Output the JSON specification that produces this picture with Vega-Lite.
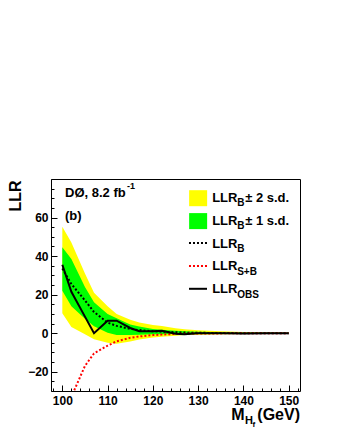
{
  "$schema": "https://vega.github.io/schema/vega-lite/v6.json",
  "width": 249,
  "height": 212,
  "autosize": {"type": "none"},
  "padding": {"left": 51, "top": 179, "right": 40, "bottom": 49},
  "background": "white",
  "config": {
    "view": {"stroke": "#000", "strokeWidth": 1},
    "font": "Liberation Sans",
    "axis": {"labelFont": "Liberation Sans", "labelFontWeight": "bold", "labelFontSize": 12, "labelColor": "#000", "tickColor": "#000", "domain": false, "grid": false, "titleFont": "Liberation Sans", "titleColor": "#000"},
    "text": {"font": "Liberation Sans", "fontWeight": "bold", "color": "#000"}
  },
  "datasets": {
    "llr": [
      {"mass": 100, "obs": 35.5, "exp": 33.5, "p1": 44.6, "m1": 22, "p2": 55.2, "m2": 10.4, "sb": -45},
      {"mass": 102, "obs": 21.5, "exp": 25.5, "p1": 38.5, "m1": 14, "p2": 47, "m2": 3.2, "sb": -33},
      {"mass": 105, "obs": 8.6, "exp": 17, "p1": 24, "m1": 7.5, "p2": 31, "m2": -0.5, "sb": -17},
      {"mass": 107, "obs": 0, "exp": 11, "p1": 16, "m1": 3.6, "p2": 21, "m2": -3.2, "sb": -10.5},
      {"mass": 110, "obs": 6.5, "exp": 5.5, "p1": 10, "m1": 0.2, "p2": 14, "m2": -5, "sb": -6.5},
      {"mass": 112, "obs": 6.5, "exp": 3.8, "p1": 7.8, "m1": -1, "p2": 10, "m2": -5.5, "sb": -4.2},
      {"mass": 115, "obs": 2.7, "exp": 2.2, "p1": 4.5, "m1": -1, "p2": 7, "m2": -4.3, "sb": -2.4},
      {"mass": 117, "obs": 1, "exp": 1.6, "p1": 3.5, "m1": -0.8, "p2": 5.5, "m2": -3.3, "sb": -1.7},
      {"mass": 120, "obs": 1, "exp": 1, "p1": 2.2, "m1": -0.6, "p2": 4.3, "m2": -2.3, "sb": -1},
      {"mass": 122, "obs": 1.2, "exp": 0.8, "p1": 1.8, "m1": -0.5, "p2": 3.7, "m2": -1.9, "sb": -0.7},
      {"mass": 125, "obs": -0.3, "exp": 0.5, "p1": 1.3, "m1": -0.4, "p2": 2.6, "m2": -1.3, "sb": -0.4},
      {"mass": 127, "obs": -0.5, "exp": 0.3, "p1": 1.0, "m1": -0.3, "p2": 2, "m2": -1, "sb": -0.25},
      {"mass": 130, "obs": 0, "exp": 0.2, "p1": 0.8, "m1": -0.3, "p2": 1.5, "m2": -0.8, "sb": -0.15},
      {"mass": 135, "obs": 0, "exp": 0.1, "p1": 0.5, "m1": -0.2, "p2": 1, "m2": -0.6, "sb": -0.1},
      {"mass": 140, "obs": -0.2, "exp": 0, "p1": 0.3, "m1": -0.2, "p2": 0.6, "m2": -0.4, "sb": 0},
      {"mass": 145, "obs": 0, "exp": 0, "p1": 0.2, "m1": -0.1, "p2": 0.4, "m2": -0.3, "sb": 0},
      {"mass": 150, "obs": 0, "exp": 0, "p1": 0.15, "m1": -0.1, "p2": 0.3, "m2": -0.2, "sb": 0}
    ],
    "legend": [
      {"entry": 1, "sub": "B", "suffix": "± 2 s.d.", "sym": "band2"},
      {"entry": 2, "sub": "B", "suffix": "± 1 s.d.", "sym": "band1"},
      {"entry": 3, "sub": "B", "suffix": "", "sym": "exp"},
      {"entry": 4, "sub": "S+B", "suffix": "", "sym": "sb"},
      {"entry": 5, "sub": "OBS", "suffix": "", "sym": "obs"}
    ]
  },
  "layer": [
    {
      "layer": [
        {
          "data": {"name": "llr"},
          "mark": {"type": "area", "color": "#ffff00", "clip": true, "opacity": 1},
          "encoding": {
            "x": {"field": "mass", "type": "quantitative", "scale": {"domain": [97.5, 152.5], "nice": false, "zero": false},
              "axis": {"orient": "bottom", "values": [100, 110, 120, 130, 140, 150], "tickSize": -6, "labelPadding": 10, "title": null}},
            "y": {"field": "p2", "type": "quantitative", "scale": {"domain": [-30, 80], "nice": false, "zero": false},
              "axis": {"orient": "left", "values": [-20, 0, 20, 40, 60], "tickSize": -6, "labelPadding": 9, "title": "LLR", "titleFontSize": 16, "titleFontWeight": "bold", "titleAngle": 270, "titleAlign": "right", "titleBaseline": "alphabetic", "titleX": -31, "titleY": 1}},
            "y2": {"field": "m2"}
          }
        },
        {
          "data": {"name": "llr"},
          "mark": {"type": "area", "color": "#00ff00", "clip": true, "opacity": 1},
          "encoding": {
            "x": {"field": "mass", "type": "quantitative",
              "axis": {"orient": "bottom", "values": [98, 100, 102, 104, 106, 108, 110, 112, 114, 116, 118, 120, 122, 124, 126, 128, 130, 132, 134, 136, 138, 140, 142, 144, 146, 148, 150, 152], "tickSize": -3, "labels": false, "title": null}},
            "y": {"field": "p1", "type": "quantitative",
              "axis": {"orient": "left", "values": [-30, -25, -20, -15, -10, -5, 0, 5, 10, 15, 20, 25, 30, 35, 40, 45, 50, 55, 60, 65, 70, 75, 80], "tickSize": -3, "labels": false, "title": null}},
            "y2": {"field": "m1"}
          }
        },
        {
          "data": {"name": "llr"},
          "mark": {"type": "line", "color": "#000", "strokeWidth": 2, "strokeDash": [2, 2], "clip": true},
          "encoding": {
            "x": {"field": "mass", "type": "quantitative", "axis": null},
            "y": {"field": "exp", "type": "quantitative", "axis": null}
          }
        },
        {
          "data": {"name": "llr"},
          "mark": {"type": "line", "color": "#ff0000", "strokeWidth": 2, "strokeDash": [2, 2], "clip": true},
          "encoding": {
            "x": {"field": "mass", "type": "quantitative", "axis": null},
            "y": {"field": "sb", "type": "quantitative", "axis": null}
          }
        },
        {
          "data": {"name": "llr"},
          "mark": {"type": "line", "color": "#000", "strokeWidth": 2, "clip": true},
          "encoding": {
            "x": {"field": "mass", "type": "quantitative", "axis": null},
            "y": {"field": "obs", "type": "quantitative", "axis": null}
          }
        },
        {
          "data": {"values": [{}]},
          "mark": {"type": "text", "align": "left", "baseline": "alphabetic", "fontSize": 13, "fontWeight": "bold", "dx": 14, "dy": 18.3},
          "encoding": {"x": {"datum": 97.5, "axis": null}, "y": {"datum": 80, "axis": null}, "text": {"value": "DØ, 8.2 fb"}}
        },
        {
          "data": {"values": [{}]},
          "mark": {"type": "text", "align": "left", "baseline": "alphabetic", "fontSize": 9, "fontWeight": "bold", "dx": 76, "dy": 9.5},
          "encoding": {"x": {"datum": 97.5, "axis": null}, "y": {"datum": 80, "axis": null}, "text": {"value": "-1"}}
        },
        {
          "data": {"values": [{}]},
          "mark": {"type": "text", "align": "left", "baseline": "alphabetic", "fontSize": 13, "fontWeight": "bold", "dx": 14, "dy": 41},
          "encoding": {"x": {"datum": 97.5, "axis": null}, "y": {"datum": 80, "axis": null}, "text": {"value": "(b)"}}
        },
        {
          "data": {"values": [{}]},
          "mark": {"type": "text", "align": "right", "baseline": "alphabetic", "fontSize": 16, "fontWeight": "bold", "dy": 29},
          "encoding": {"x": {"datum": 152.5, "axis": null}, "y": {"datum": -30, "axis": null}, "text": {"value": "(GeV)"}}
        },
        {
          "data": {"values": [{}]},
          "mark": {"type": "text", "align": "right", "baseline": "alphabetic", "fontSize": 16, "fontWeight": "bold", "dx": -55.4, "dy": 29},
          "encoding": {"x": {"datum": 152.5, "axis": null}, "y": {"datum": -30, "axis": null}, "text": {"value": "M"}}
        },
        {
          "data": {"values": [{}]},
          "mark": {"type": "text", "align": "left", "baseline": "alphabetic", "fontSize": 11, "fontWeight": "bold", "dx": -55, "dy": 32.5},
          "encoding": {"x": {"datum": 152.5, "axis": null}, "y": {"datum": -30, "axis": null}, "text": {"value": "H"}}
        },
        {
          "data": {"values": [{}]},
          "mark": {"type": "text", "align": "left", "baseline": "alphabetic", "fontSize": 8, "fontWeight": "bold", "dx": -47.5, "dy": 35.5},
          "encoding": {"x": {"datum": 152.5, "axis": null}, "y": {"datum": -30, "axis": null}, "text": {"value": "f"}}
        }
      ],
      "resolve": {"axis": {"x": "independent", "y": "independent"}}
    },
    {
      "data": {"name": "legend"},
      "layer": [
        {
          "transform": [{"filter": "datum.sym == 'band2'"}],
          "mark": {"type": "point", "shape": "M-1,-0.889H1V0.889H-1Z", "size": 324, "filled": true, "opacity": 1, "color": "#ffff00", "strokeWidth": 0, "yOffset": -3.5},
          "encoding": {
            "x": {"datum": 130, "axis": null},
            "y": {"field": "entry", "type": "ordinal", "scale": {"type": "point", "range": [22.7, 114.3], "padding": 0}, "axis": null}
          }
        },
        {
          "transform": [{"filter": "datum.sym == 'band1'"}],
          "mark": {"type": "point", "shape": "M-1,-0.889H1V0.889H-1Z", "size": 324, "filled": true, "opacity": 1, "color": "#00ff00", "strokeWidth": 0, "yOffset": -3.5},
          "encoding": {
            "x": {"datum": 130, "axis": null},
            "y": {"field": "entry", "type": "ordinal", "axis": null}
          }
        },
        {
          "transform": [{"filter": "datum.sym == 'exp'"}],
          "mark": {"type": "rule", "color": "#000", "strokeWidth": 2, "strokeDash": [2, 2], "yOffset": -4.5},
          "encoding": {
            "x": {"datum": 127.98, "axis": null},
            "x2": {"datum": 131.96},
            "y": {"field": "entry", "type": "ordinal", "axis": null}
          }
        },
        {
          "transform": [{"filter": "datum.sym == 'sb'"}],
          "mark": {"type": "rule", "color": "#ff0000", "strokeWidth": 2, "strokeDash": [2, 2], "yOffset": -4.5},
          "encoding": {
            "x": {"datum": 127.98, "axis": null},
            "x2": {"datum": 131.96},
            "y": {"field": "entry", "type": "ordinal", "axis": null}
          }
        },
        {
          "transform": [{"filter": "datum.sym == 'obs'"}],
          "mark": {"type": "rule", "color": "#000", "strokeWidth": 2, "yOffset": -4.5},
          "encoding": {
            "x": {"datum": 127.98, "axis": null},
            "x2": {"datum": 131.96},
            "y": {"field": "entry", "type": "ordinal", "axis": null}
          }
        },
        {
          "mark": {"type": "text", "align": "left", "baseline": "alphabetic", "fontSize": 13, "fontWeight": "bold", "dx": 14},
          "encoding": {
            "x": {"datum": 130, "axis": null},
            "y": {"field": "entry", "type": "ordinal", "axis": null},
            "text": {"value": "LLR"}
          }
        },
        {
          "mark": {"type": "text", "align": "left", "baseline": "alphabetic", "fontSize": 10, "fontWeight": "bold", "dx": 39, "dy": 4.5},
          "encoding": {
            "x": {"datum": 130, "axis": null},
            "y": {"field": "entry", "type": "ordinal", "axis": null},
            "text": {"field": "sub"}
          }
        },
        {
          "transform": [{"filter": "datum.suffix != ''"}],
          "mark": {"type": "text", "align": "left", "baseline": "alphabetic", "fontSize": 13, "fontWeight": "bold", "dx": 47},
          "encoding": {
            "x": {"datum": 130, "axis": null},
            "y": {"field": "entry", "type": "ordinal", "axis": null},
            "text": {"field": "suffix"}
          }
        }
      ]
    }
  ],
  "resolve": {"scale": {"y": "independent"}}
}
